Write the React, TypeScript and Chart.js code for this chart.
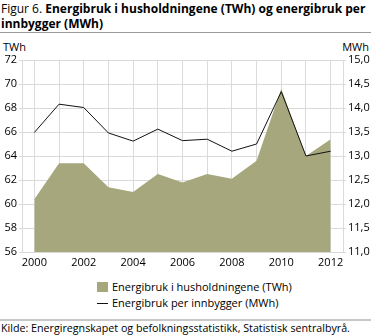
import React, { useEffect, useRef } from 'react';
import { Chart, registerables } from 'chart.js';

Chart.register(...registerables);

const years = ['2000', '2001', '2002', '2003', '2004', '2005', '2006', '2007', '2008', '2009', '2010', '2011', '2012'];
const householdTWh = [60.4, 63.4, 63.4, 61.4, 61.0, 62.5, 61.8, 62.5, 62.1, 63.6, 69.6, 64.0, 65.4];
const perCapitaMWh = [13.49, 14.08, 14.01, 13.48, 13.31, 13.56, 13.32, 13.35, 13.1, 13.25, 14.34, 13.0, 13.1];
const seriesNames = ['Energibruk i husholdningene (TWh)', 'Energibruk per innbygger (MWh)'];
const titlePrefix = 'Figur 6. ';
const titleBold = 'Energibruk i husholdningene (TWh) og energibruk per innbygger (MWh)';
const leftUnit = 'TWh';
const rightUnit = 'MWh';
const sourceText = 'Kilde: Energiregnskapet og befolkningsstatistikk, Statistisk sentralbyrå.';

const FONT = '"Open Sans", sans-serif';
const AREA = '#a7a77d';
const GRID = '#dadada';

export default function App() {
  const ref = useRef<HTMLCanvasElement>(null);
  useEffect(() => {
    if (!ref.current) return;
    const chart = new Chart(ref.current, {
      type: 'line',
      data: {
        labels: years,
        datasets: [
          {
            label: seriesNames[1],
            data: perCapitaMWh,
            yAxisID: 'y1',
            borderColor: '#111',
            borderWidth: 1,
            pointRadius: 0,
            fill: false,
            tension: 0,
            order: 0,
          },
          {
            label: seriesNames[0],
            data: householdTWh,
            yAxisID: 'y',
            borderColor: AREA,
            borderWidth: 0,
            backgroundColor: AREA,
            pointRadius: 0,
            fill: 'start',
            tension: 0,
            order: 1,
          },
        ],
      },
      options: {
        animation: false,
        responsive: false,
        maintainAspectRatio: false,
        layout: { padding: { top: 24, left: 0, right: 0, bottom: 0 } },
        plugins: { legend: { display: false }, tooltip: { enabled: false } },
        scales: {
          x: {
            type: 'category',
            offset: true,
            grid: { color: GRID, lineWidth: 1, offset: false, drawTicks: false },
            border: { color: GRID },
            ticks: {
              autoSkip: false,
              maxRotation: 0,
              padding: 4,
              color: '#000',
              font: { family: FONT, size: 11 },
              callback: (_v: any, i: number) => (i % 2 === 0 ? years[i] : ''),
            },
            afterFit: (s: any) => { s.height = 20; },
          },
          y: {
            position: 'left',
            min: 56,
            max: 72,
            ticks: { stepSize: 2, color: '#000', padding: 2, font: { family: FONT, size: 11 } },
            grid: { color: GRID, lineWidth: 1, tickLength: 3 },
            border: { color: GRID },
            afterFit: (s: any) => { s.width = 22; },
          },
          y1: {
            position: 'right',
            min: 11,
            max: 15,
            ticks: {
              stepSize: 0.5,
              color: '#000',
              padding: 2,
              font: { family: FONT, size: 11 },
              callback: (v: any) => Number(v).toFixed(1).replace('.', ','),
            },
            grid: { drawOnChartArea: false, color: GRID, tickLength: 3 },
            border: { color: GRID },
            afterFit: (s: any) => { s.width = 28; },
          },
        },
      },
    });
    return () => chart.destroy();
  }, []);

  return (
    <div style={{ position: 'fixed', left: 0, top: 0, width: 371, height: 335, background: '#fff', fontFamily: FONT, color: '#000', overflow: 'hidden' }}>
      <div style={{ position: 'absolute', left: 1, top: 1, width: 368, fontSize: 12, lineHeight: '15px' }}>
        <span>{titlePrefix}</span>
        <span style={{ fontWeight: 'bold' }}>{titleBold}</span>
      </div>
      <div style={{ position: 'absolute', left: 0, top: 32, width: 371, height: 1, background: '#9a9a9a' }} />
      <div style={{ position: 'absolute', left: 3, top: 39, fontSize: 11 }}>{leftUnit}</div>
      <div style={{ position: 'absolute', right: 2, top: 39, fontSize: 11 }}>{rightUnit}</div>
      <div style={{ position: 'absolute', left: 0, top: 36, width: 371, height: 236 }}>
        <canvas ref={ref} width={371} height={236} style={{ width: 371, height: 236 }} />
      </div>
      <div style={{ position: 'absolute', left: 97, top: 279, fontSize: 11, lineHeight: '16px' }}>
        <div style={{ display: 'flex', alignItems: 'center' }}>
          <span style={{ display: 'inline-block', width: 11, height: 10, background: AREA, marginRight: 4 }} />
          <span>{seriesNames[0]}</span>
        </div>
        <div style={{ display: 'flex', alignItems: 'center' }}>
          <span style={{ display: 'inline-block', width: 11, height: 1, background: '#111', marginRight: 4 }} />
          <span>{seriesNames[1]}</span>
        </div>
      </div>
      <div style={{ position: 'absolute', left: 0, top: 319, width: 371, height: 2, background: '#c8c8c8' }} />
      <div style={{ position: 'absolute', left: 1, top: 322, fontSize: 10.7, lineHeight: '13px', whiteSpace: 'nowrap' }}>{sourceText}</div>
    </div>
  );
}
